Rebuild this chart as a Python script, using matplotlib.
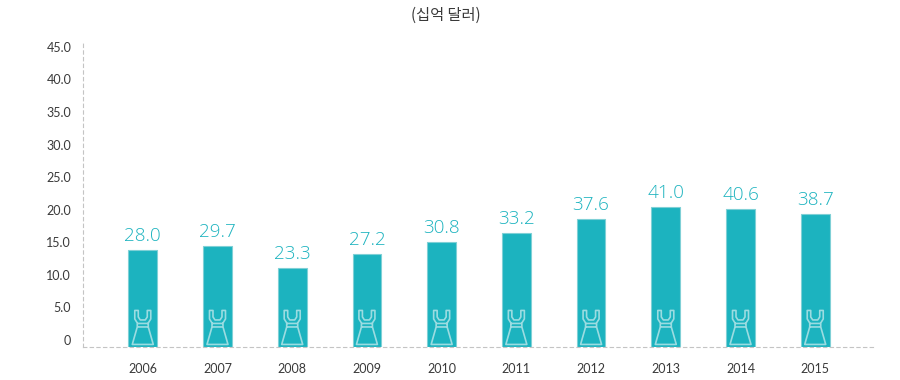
import matplotlib
matplotlib.use('Agg')
from matplotlib import pyplot as plt
from matplotlib.path import Path

years = ['2006', '2007', '2008', '2009', '2010', '2011', '2012', '2013', '2014', '2015']
value_labels = ['28.0', '29.7', '23.3', '27.2', '30.8', '33.2', '37.6', '41.0', '40.6', '38.7']
# bar tops as read against the left axis (the bars sit at about half the printed value)
bar_tops = [13.8, 14.5, 11.0, 13.2, 15.1, 16.4, 18.6, 20.4, 20.1, 19.3]
y_ticks = [0, 5, 10, 15, 20, 25, 30, 35, 40, 45]
y_tick_labels = ['0', '5.0', '10.0', '15.0', '20.0', '25.0', '30.0', '35.0', '40.0', '45.0']

teal = '#1cb3bf'
edge = '#7fd0d6'
icon_color = '#9bdce1'
grey = '#c4c4c4'
text_color = '#3a3a3a'
latin = ['Lato', 'DejaVu Sans']
value_font = ['Open Sans', 'DejaVu Sans']

# dress icon, one closed outline plus the waist band
dress_verts = [
    (-8, 17.5), (-4.5, 17.5), (-4.5, 11), (-2.5, 8), (2.5, 8), (4.5, 11), (4.5, 17.5), (8, 17.5),
    (8, 9), (5.5, 5), (5.5, 1), (10.5, -16.5), (-10.5, -16.5), (-5.5, 1), (-5.5, 5), (-8, 9), (-8, 17.5),
    (-5.5, 4.5), (5.5, 4.5),
    (-5.5, 1), (5.5, 1),
]
dress_codes = [Path.MOVETO] + [Path.LINETO] * 15 + [Path.CLOSEPOLY] + [Path.MOVETO, Path.LINETO, Path.MOVETO, Path.LINETO]
dress = Path(dress_verts, dress_codes)

fig = plt.figure(figsize=(9, 3.8), dpi=100)
ax = fig.add_axes([83 / 900, 1 - 347 / 380, (875 - 83) / 900, (347 - 43) / 380])

y_min = -1.075
x = list(range(len(years)))
ax.bar(x, [t - y_min for t in bar_tops], bottom=y_min, width=0.385, color=teal, edgecolor=edge, linewidth=0.8, zorder=2)
ax.scatter(x, [1.85] * len(x), marker=dress, s=25.2 ** 2, facecolors='none', edgecolors=icon_color, linewidths=1.2, zorder=3)

for i, top in enumerate(bar_tops):
    ax.annotate(value_labels[i], (i, top), xytext=(0, 3.6), textcoords='offset points', ha='center', va='bottom',
                color=teal, fontsize=13.6, family=value_font, fontweight='light')

ax.set_xlim(-0.80, 9.80)
ax.set_ylim(y_min, 45.6)
ax.set_xticks(x)
ax.set_xticklabels(years, family=latin, fontsize=9, color=text_color)
ax.set_yticks(y_ticks)
ax.set_yticklabels(y_tick_labels, family=latin, fontsize=9, color=text_color)
ax.tick_params(axis='both', length=0)
ax.tick_params(axis='x', pad=11.2)
ax.tick_params(axis='y', pad=8.5)

ax.spines['top'].set_visible(False)
ax.spines['right'].set_visible(False)
for side in ['left', 'bottom']:
    ax.spines[side].set_color(grey)
    ax.spines[side].set_linewidth(0.8)
    ax.spines[side].set_linestyle((0, (3, 3)))

fig.text(446 / 900, 1 - 15 / 380, '(십억 달러)', ha='center', va='center', fontsize=11, color=text_color,
         family=['Noto Sans CJK KR', 'DejaVu Sans'])

plt.savefig('out.png', dpi=100)
